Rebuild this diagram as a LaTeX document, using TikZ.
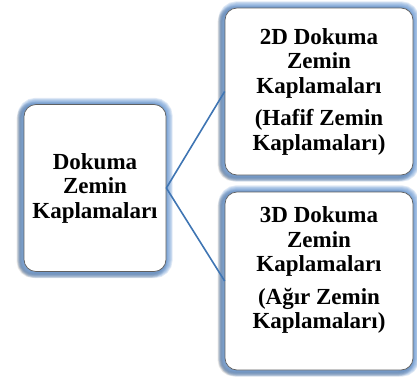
\documentclass[tikz,border=0pt]{standalone}
\usepackage{fontspec}
\setmainfont{Liberation Serif}
\usetikzlibrary{backgrounds}
\definecolor{glowc}{HTML}{6494D0}
\definecolor{boxedge}{HTML}{5F5F5F}
\definecolor{linkc}{HTML}{3F75B3}
\tikzset{
  box/.style={draw=boxedge, line width=0.7pt, fill=white, rounded corners=12pt,
    align=center, inner sep=0pt,
    font=\bfseries\fontsize{23}{24.5}\selectfont},
  link/.style={draw=linkc, line width=1.6pt},
}
\begin{document}
\begin{tikzpicture}[x=1pt,y=1pt]
\useasboundingbox (0,0) rectangle (417,376);
\node[box, minimum width=142pt, minimum height=167pt] (L) at (95,188)
  {Dokuma\\Zemin\\Kaplamaları};
\node[box, minimum width=188pt, minimum height=167pt] (A) at (319,284.5)
  {2D Dokuma\\Zemin\\Kaplamaları\\[8pt](Hafif Zemin\\Kaplamaları)};
\node[box, minimum width=188pt, minimum height=178pt] (B) at (319,95)
  {3D Dokuma\\Zemin\\Kaplamaları\\[8pt](Ağır Zemin\\Kaplamaları)\\[2pt]};
\begin{scope}[on background layer]
\foreach \n in {L,A,B}{
  \foreach \i in {1,...,5}{
    \draw[black, line width=\i*1.6pt, opacity=0.09, rounded corners=12pt]
      ([shift={(-3pt,-2pt)}]\n.south west) rectangle ([shift={(-3pt,-2pt)}]\n.north east);
  }
  \foreach \i in {1,...,7}{
    \draw[glowc, line width=\i*1.8pt, opacity=0.2, rounded corners=12pt]
      (\n.south west) rectangle (\n.north east);
  }
}
\end{scope}
\draw[link] (L.east) -- (A.west);
\draw[link] (L.east) -- (B.west);
\end{tikzpicture}
\end{document}
